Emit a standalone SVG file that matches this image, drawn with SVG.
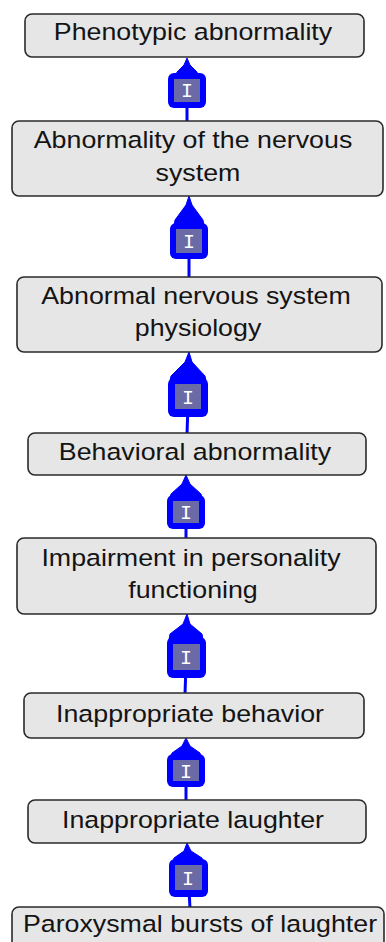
<svg xmlns="http://www.w3.org/2000/svg" width="386" height="942" viewBox="0 0 386 942">
<style>
.node rect{fill:#e6e6e6;stroke:#2a2a2a;stroke-width:1.6}
.node text{font-family:"Liberation Sans",Arial,sans-serif;font-size:23.5px;fill:#141414;text-anchor:middle}
.edge line{stroke:#0000ff;stroke-width:3}
.edge path{fill:#0000ff;stroke:#0000ff;stroke-width:1;stroke-linejoin:round}
.lbl-o{fill:#0000ff}
.lbl-i{fill:#6a6aa6}
.lbl-t{font-family:"Liberation Mono","DejaVu Sans Mono",monospace;font-size:20px;fill:#ffffff;text-anchor:middle}
</style>
<rect width="386" height="942" fill="#ffffff"/>
<g id="edges" class="edge">
  <g id="e1">
    <line x1="187" y1="100" x2="187" y2="121"/>
    <path d="M187,58 L190,65 L197,72 L198,76 L176,76 L177,72 L184,65 Z"/>
    <rect class="lbl-o" x="168" y="73" width="38" height="35" rx="6"/>
    <rect class="lbl-i" x="174" y="79" width="26" height="23"/>
    <text class="lbl-t" x="187" y="97">I</text>
  </g>
  <g id="e2">
    <line x1="189" y1="250" x2="189" y2="278"/>
    <path d="M189,196 L192,205 L203,220 L204,226 L174,226 L175,220 L186,205 Z"/>
    <rect class="lbl-o" x="170" y="223" width="38" height="36" rx="6"/>
    <rect class="lbl-i" x="176" y="229" width="26" height="24"/>
    <text class="lbl-t" x="189" y="248">I</text>
  </g>
  <g id="e3">
    <line x1="188" y1="405" x2="187" y2="434"/>
    <path d="M189,352 L192,362 L205,376 L206,381 L170,381 L171,376 L185,362 Z"/>
    <rect class="lbl-o" x="168" y="378" width="40" height="39" rx="6"/>
    <rect class="lbl-i" x="175" y="384" width="26" height="25"/>
    <text class="lbl-t" x="188" y="404">I</text>
  </g>
  <g id="e4">
    <line x1="186" y1="520" x2="186" y2="539"/>
    <path d="M186,475 L190,484 L201,494 L202,498 L170,498 L171,494 L182,484 Z"/>
    <rect class="lbl-o" x="167" y="495" width="38" height="34" rx="6"/>
    <rect class="lbl-i" x="173" y="501" width="26" height="22"/>
    <text class="lbl-t" x="186" y="519">I</text>
  </g>
  <g id="e5">
    <line x1="186" y1="665" x2="185" y2="694"/>
    <path d="M187,614 L190,624 L202,634 L203,640 L169,640 L170,634 L183,624 Z"/>
    <rect class="lbl-o" x="167" y="637" width="39" height="41" rx="6"/>
    <rect class="lbl-i" x="173" y="644" width="27" height="26"/>
    <text class="lbl-t" x="186" y="664">I</text>
  </g>
  <g id="e6">
    <line x1="186" y1="780" x2="186" y2="801"/>
    <path d="M186,738 L190,746 L200,753 L201,757 L171,757 L172,753 L182,746 Z"/>
    <rect class="lbl-o" x="167" y="754" width="38" height="33" rx="6"/>
    <rect class="lbl-i" x="173" y="760" width="26" height="21"/>
    <text class="lbl-t" x="186" y="778">I</text>
  </g>
  <g id="e7">
    <line x1="189" y1="890" x2="190" y2="908"/>
    <path d="M187,843 L191,851 L202,858 L203,862 L173,862 L174,858 L184,851 Z"/>
    <rect class="lbl-o" x="169" y="859" width="39" height="38" rx="6"/>
    <rect class="lbl-i" x="175" y="865" width="27" height="25"/>
    <text class="lbl-t" x="188" y="885">I</text>
  </g>
</g>
<g id="n1" class="node">
  <rect x="25" y="14" width="339" height="43" rx="7"/>
  <text transform="translate(193,40) scale(1.14,1)">Phenotypic abnormality</text>
</g>
<g id="n2" class="node">
  <rect x="12" y="121" width="371" height="75" rx="7"/>
  <text transform="translate(193,148) scale(1.14,1)">Abnormality of the nervous</text>
  <text transform="translate(198,181) scale(1.14,1)">system</text>
</g>
<g id="n3" class="node">
  <rect x="17" y="277" width="365" height="75" rx="7"/>
  <text transform="translate(196,304) scale(1.14,1)">Abnormal nervous system</text>
  <text transform="translate(198,336) scale(1.14,1)">physiology</text>
</g>
<g id="n4" class="node">
  <rect x="28" y="433" width="338" height="42" rx="7"/>
  <text transform="translate(195,460) scale(1.14,1)">Behavioral abnormality</text>
</g>
<g id="n5" class="node">
  <rect x="17" y="538" width="359" height="76" rx="7"/>
  <text transform="translate(191,566) scale(1.14,1)">Impairment in personality</text>
  <text transform="translate(193,598) scale(1.14,1)">functioning</text>
</g>
<g id="n6" class="node">
  <rect x="24" y="693" width="340" height="45" rx="7"/>
  <text transform="translate(190,722) scale(1.14,1)">Inappropriate behavior</text>
</g>
<g id="n7" class="node">
  <rect x="28" y="800" width="338" height="43" rx="7"/>
  <text transform="translate(193,828) scale(1.14,1)">Inappropriate laughter</text>
</g>
<g id="n8" class="node">
  <rect x="12" y="907" width="372" height="44" rx="7"/>
  <text transform="translate(200,932) scale(1.14,1)">Paroxysmal bursts of laughter</text>
</g>
</svg>
